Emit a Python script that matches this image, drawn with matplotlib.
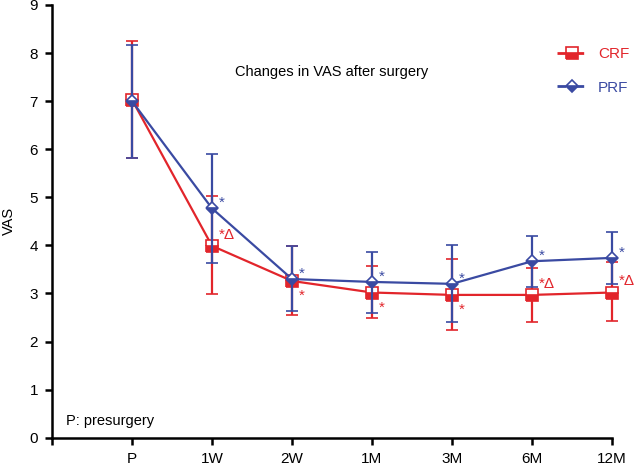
import numpy as np
import matplotlib.pyplot as plt
from matplotlib.lines import Line2D

plt.rcParams['font.family'] = ['Liberation Sans', 'DejaVu Sans']

# time points
labels = ['P', '1W', '2W', '1M', '3M', '6M', '12M']

# CRF: mean, lower and upper end of error bar
crf_mean = [7.03, 3.99, 3.26, 3.02, 2.97, 2.97, 3.02]
crf_low = [5.82, 2.98, 2.56, 2.50, 2.24, 2.40, 2.43]
crf_high = [8.26, 5.03, 3.99, 3.57, 3.72, 3.54, 3.66]

# PRF
prf_mean = [7.00, 4.77, 3.30, 3.24, 3.20, 3.67, 3.74]
prf_low = [5.82, 3.64, 2.63, 2.60, 2.40, 3.13, 3.20]
prf_high = [8.17, 5.90, 3.99, 3.87, 4.00, 4.20, 4.27]

# significance marks
crf_marks = ['', '*\u0394', '*', '*', '*', '*\u0394', '*\u0394']
prf_marks = ['', '*', '*', '*', '*', '*', '*']

red = '#e2252b'
blue = '#3a4aa2'

x = np.arange(1, len(labels) + 1)

fig = plt.figure(figsize=(6.38, 4.67), dpi=100)
ax = fig.add_axes([52 / 638, 29.3 / 467, 560 / 638, 432.7 / 467])

crf_mean = np.array(crf_mean)
prf_mean = np.array(prf_mean)
crf_err = [crf_mean - np.array(crf_low), np.array(crf_high) - crf_mean]
prf_err = [prf_mean - np.array(prf_low), np.array(prf_high) - prf_mean]

crf_style = dict(color=red, marker='s', ms=8, fillstyle='bottom',
                 markerfacecoloralt='white', mec=red, mew=1.2)
prf_style = dict(color=blue, marker='D', ms=6, fillstyle='bottom',
                 markerfacecoloralt='white', mec=blue, mew=1.2)

conts = []
conts.append(ax.errorbar(x, crf_mean, yerr=crf_err, lw=1.6, elinewidth=1.6,
                         capsize=4, capthick=1.6, zorder=3, **crf_style))
conts.append(ax.errorbar(x, prf_mean, yerr=prf_err, lw=1.6, elinewidth=1.6,
                         capsize=4, capthick=1.6, zorder=4, **prf_style))
for c in conts:
    for art in c.get_children():
        art.set_clip_on(False)

for i in range(len(labels)):
    if prf_marks[i]:
        ax.annotate(prf_marks[i], (x[i], prf_mean[i]), xytext=(5, 4),
                    textcoords='offset points', color=blue, fontsize=11,
                    ha='left', va='center')
    if crf_marks[i]:
        dy = 8 if '\u0394' in crf_marks[i] else -11
        ax.annotate(crf_marks[i], (x[i], crf_mean[i]), xytext=(5, dy),
                    textcoords='offset points', color=red, fontsize=11,
                    ha='left', va='center')

ax.text(3.5, 7.6, 'Changes in VAS after surgery', ha='center', va='center', fontsize=10.5)
ax.text(0.18, 0.35, 'P: presurgery', ha='left', va='center', fontsize=10.5)

ax.set_xlim(0, 7)
ax.set_ylim(0, 9)
ax.set_xticks(range(0, 8))
ax.set_xticklabels([''] + labels)
ax.set_yticks(range(0, 10))
ax.set_ylabel('VAS', fontsize=10.5, labelpad=10)
ax.tick_params(labelsize=11, width=1.8, length=5, direction='out', pad=5)
for s in ['top', 'right']:
    ax.spines[s].set_visible(False)
for s in ['left', 'bottom']:
    ax.spines[s].set_linewidth(1.8)

handles = [Line2D([], [], ls='--', lw=2, dashes=(3.2, 3.2), **crf_style),
           Line2D([], [], ls='--', lw=2, dashes=(3.2, 3.2), **prf_style)]
leg = ax.legend(handles, ['CRF', 'PRF'], loc='upper right',
                bbox_to_anchor=(1.055, 0.935), frameon=False,
                fontsize=11, labelspacing=1.3, handlelength=2.0, handletextpad=0.7)
for t, c in zip(leg.get_texts(), [red, blue]):
    t.set_color(c)

fig.savefig('out.png', dpi=100)
